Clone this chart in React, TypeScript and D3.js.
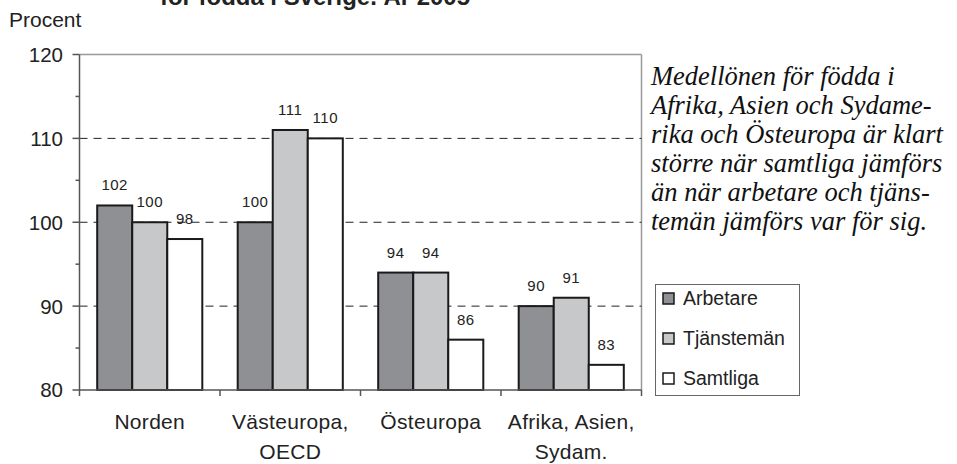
import React from "react";
import * as d3 from "d3";

const categories: string[][] = [
  ["Norden"],
  ["Västeuropa,", "OECD"],
  ["Östeuropa"],
  ["Afrika, Asien,", "Sydam."],
];
const seriesNames = ["Arbetare", "Tjänstemän", "Samtliga"];
const arbetare = [102, 100, 94, 90];
const tjansteman = [100, 111, 94, 91];
const samtliga = [98, 110, 86, 83];
const seriesValues = [arbetare, tjansteman, samtliga];
const seriesColors = ["#8f9094", "#c7c8ca", "#ffffff"];
const yTicks = [80, 90, 100, 110, 120];
const yMinorTicks = [85, 95, 105, 115];
const gridValues = [90, 100, 110];
const annotation = [
  "Medellönen för födda i",
  "Afrika, Asien och Sydame-",
  "rika och Östeuropa är klart",
  "större när samtliga jämförs",
  "än när arbetare och tjäns-",
  "temän jämförs var för sig.",
];
const titleText = "för födda i Sverige. År 2005";
const yLabel = "Procent";

const W = 957;
const H = 464;
const sans = "'Liberation Sans', Arial, Helvetica, sans-serif";
const serif = "'Liberation Serif', 'Times New Roman', serif";

export default function App() {
  const left = 79.5;
  const right = 641.5;
  const top = 54.5;
  const bottom = 390;

  const x = d3
    .scaleBand<number>()
    .domain(categories.map((_, i) => i))
    .range([left, right]);
  const bw = x.bandwidth();
  const inner = d3
    .scaleBand<number>()
    .domain(seriesNames.map((_, i) => i))
    .range([bw * 0.126, bw * 0.874]);
  const y = d3.scaleLinear().domain([80, 120]).range([bottom, top]);

  return (
    <svg
      width={W}
      height={H}
      style={{ position: "absolute", left: 0, top: 0, background: "#fff" }}
      fontFamily={sans}
    >
      <rect x={0} y={0} width={W} height={H} fill="#fff" />
      {/* clipped title */}
      <text x={160} y={5} fontSize={23} fontWeight="bold" fill="#222" textLength={310} lengthAdjust="spacingAndGlyphs">
        {titleText}
      </text>
      <text x={9} y={27} fontSize={21} fill="#222">
        {yLabel}
      </text>

      {/* frame top and right */}
      <line x1={left} x2={right} y1={y(120)} y2={y(120)} stroke="#999" strokeWidth={1.5} />
      <line x1={right} x2={right} y1={y(120)} y2={bottom} stroke="#999" strokeWidth={1.5} />

      {/* grid */}
      {gridValues.map((v) => (
        <line
          key={v}
          x1={left}
          x2={right}
          y1={y(v)}
          y2={y(v)}
          stroke="#222"
          strokeWidth={1}
          strokeDasharray="8,6"
        />
      ))}

      {/* bars */}
      {categories.map((_, ci) =>
        seriesValues.map((vals, si) => {
          const bx = (x(ci) as number) + (inner(si) as number);
          const v = vals[ci];
          return (
            <g key={`${ci}-${si}`}>
              <rect
                x={bx}
                y={y(v)}
                width={inner.bandwidth()}
                height={bottom - y(v)}
                fill={seriesColors[si]}
                stroke="#1a1a1a"
                strokeWidth={2}
              />
              <text
                x={bx + inner.bandwidth() / 2}
                y={y(v) - 15}
                fontSize={15}
                letterSpacing={0.5}
                textAnchor="middle"
                fill="#222"
              >
                {v}
              </text>
            </g>
          );
        })
      )}

      {/* y axis */}
      <line x1={left} x2={left} y1={y(120)} y2={bottom + 6} stroke="#555" strokeWidth={1.5} />
      {yTicks.map((t) => (
        <g key={t}>
          <line x1={left - 7} x2={left} y1={y(t)} y2={y(t)} stroke="#555" strokeWidth={1.5} />
          <text x={63} y={y(t)} dy="0.36em" fontSize={20.5} textAnchor="end" fill="#222">
            {t}
          </text>
        </g>
      ))}
      {yMinorTicks.map((t) => (
        <line key={t} x1={left - 4} x2={left} y1={y(t)} y2={y(t)} stroke="#555" strokeWidth={1.5} />
      ))}

      {/* x axis */}
      <line x1={left} x2={right} y1={bottom} y2={bottom} stroke="#555" strokeWidth={1.5} />
      {categories.map((_, ci) => (
        <line
          key={ci}
          x1={(x(ci) as number) + bw}
          x2={(x(ci) as number) + bw}
          y1={bottom}
          y2={bottom + 6}
          stroke="#555"
          strokeWidth={1.5}
        />
      ))}
      {categories.map((lines, ci) => (
        <text
          key={ci}
          x={(x(ci) as number) + bw / 2}
          y={428.5}
          fontSize={21}
          letterSpacing={0.3}
          textAnchor="middle"
          fill="#222"
        >
          {lines.map((l, li) => (
            <tspan key={li} x={(x(ci) as number) + bw / 2} dy={li === 0 ? 0 : 30}>
              {l}
            </tspan>
          ))}
        </text>
      ))}

      {/* annotation */}
      <text fontFamily={serif} fontSize={26.5} fill="#111" style={{ fontStyle: "italic" }}>
        {annotation.map((l, i) => (
          <tspan key={i} x={651} y={85 + i * 29}>
            {l}
          </tspan>
        ))}
      </text>

      {/* legend */}
      <rect x={655.5} y={284.5} width={144} height={111} fill="#fff" stroke="#666" strokeWidth={1} />
      {seriesNames.map((n, i) => (
        <g key={n}>
          <rect
            x={663}
            y={293 + i * 40}
            width={11}
            height={11}
            fill={seriesColors[i]}
            stroke="#1a1a1a"
            strokeWidth={1.5}
          />
          <text x={683} y={298 + i * 40} dy="0.36em" fontSize={19.5} fill="#222">
            {n}
          </text>
        </g>
      ))}
    </svg>
  );
}
